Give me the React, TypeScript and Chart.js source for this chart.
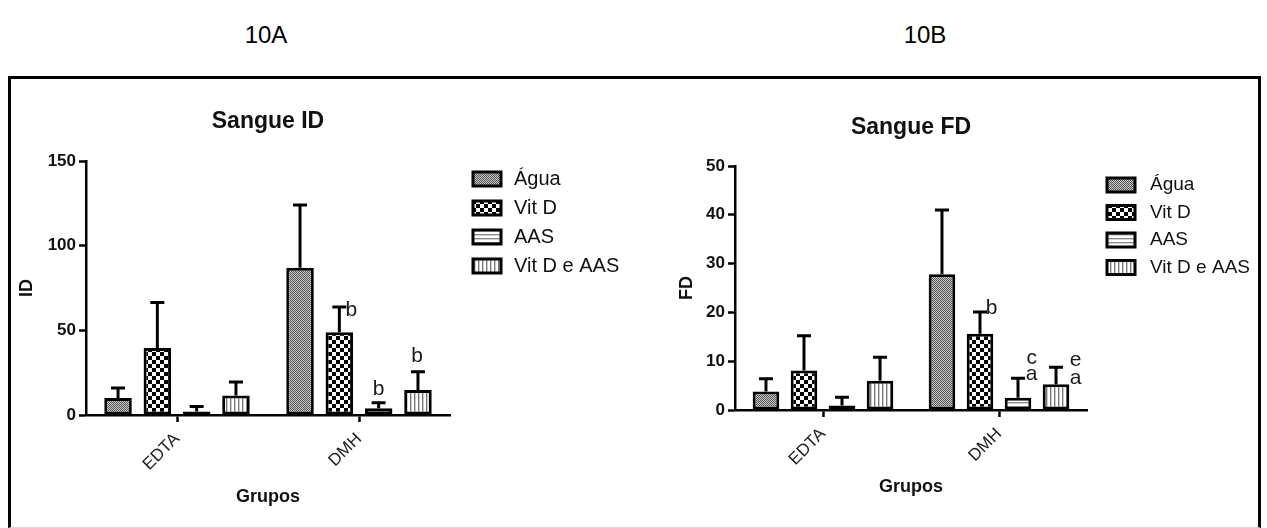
import React, { useEffect, useRef } from 'react';
import { Chart, registerables } from 'chart.js';

Chart.register(...registerables);

const FONT = "'Liberation Sans', Arial, Helvetica, sans-serif";

// ---------- data ----------
const categories = ['EDTA', 'DMH'];
const seriesLabels = ['Água', 'Vit D', 'AAS', 'Vit D e AAS'];

// Sangue ID (means, then upper SD)
const idAgua = [10, 87];
const idVitD = [39.5, 48.8];
const idAAS = [2, 4];
const idVitDAAS = [11.5, 14.8];
const idAguaSD = [6, 37];
const idVitDSD = [27, 15];
const idAASSD = [3, 3.3];
const idVitDAASSD = [8, 10.8];
const idTicks = [0, 50, 100, 150];
const idLetters = [[[], []], [[], ['b']], [[], ['b']], [[], ['b']]];

// Sangue FD
const fdAgua = [3.8, 27.8];
const fdVitD = [8.1, 15.6];
const fdAAS = [0.9, 2.5];
const fdVitDAAS = [6.0, 5.3];
const fdAguaSD = [2.6, 13.2];
const fdVitDSD = [7.1, 4.5];
const fdAASSD = [1.7, 4];
const fdVitDAASSD = [4.8, 3.45];
const fdTicks = [0, 10, 20, 30, 40, 50];
const fdLetters = [[[], []], [[], ['b']], [[], ['c', 'a']], [[], ['e', 'a']]];

// ---------- layout / style ----------
type PanelCfg = {
  title: string;
  yTitle: string;
  xTitle: string;
  values: number[][];
  errors: number[][];
  ticks: number[];
  letters: string[][][];
  letterPos: number[][][][];
  area: { left: number; top: number; right: number; bottom: number };
  titleDy: number;
  yTitleDx: number;
  xTitleDy: number;
  legendDx: number;
  legendDy: number;
  legendPitch: number;
  legendTextDx: number;
  legendFont: number;
};

const W = 1267;
const H = 528;
const Y_AXIS_W = 60;
const X_AXIS_H = 60;

const leftCfg: PanelCfg = {
  title: 'Sangue ID',
  yTitle: 'ID',
  xTitle: 'Grupos',
  values: [idAgua, idVitD, idAAS, idVitDAAS],
  errors: [idAguaSD, idVitDSD, idAASSD, idVitDAASSD],
  ticks: idTicks,
  letters: idLetters,
  letterPos: [[[], []], [[], [[12, 2]]], [[], [[0, -15.5]]], [[], [[-1, -17.5]]]],
  area: { left: 86, top: 161, right: 450, bottom: 415 },
  titleDy: 39.3,
  yTitleDx: 59,
  xTitleDy: 81.7,
  legendDx: 23,
  legendDy: 18,
  legendPitch: 29,
  legendTextDx: 41,
  legendFont: 20,
};

const rightCfg: PanelCfg = {
  title: 'Sangue FD',
  yTitle: 'FD',
  xTitle: 'Grupos',
  values: [fdAgua, fdVitD, fdAAS, fdVitDAAS],
  errors: [fdAguaSD, fdVitDSD, fdAASSD, fdVitDAASSD],
  ticks: fdTicks,
  letters: fdLetters,
  letterPos: [
    [[], []],
    [[], [[11.7, -5]]],
    [[], [[13.7, -19.3], [13.7, -3.3]]],
    [[], [[19.5, -7.3], [19.5, 11]]],
  ],
  area: { left: 735, top: 166, right: 1087, bottom: 410 },
  titleDy: 38,
  yTitleDx: 47.5,
  xTitleDy: 76.7,
  legendDx: 20,
  legendDy: 19,
  legendPitch: 27.5,
  legendTextDx: 43,
  legendFont: 19,
};

function makeTile(w: number, h: number, draw: (g: CanvasRenderingContext2D) => void) {
  const c = document.createElement('canvas');
  c.width = w;
  c.height = h;
  const g = c.getContext('2d')!;
  draw(g);
  return c;
}

function makePatterns(ctx: CanvasRenderingContext2D) {
  const agua = makeTile(2, 2, (g) => {
    g.fillStyle = '#c8c8c8';
    g.fillRect(0, 0, 2, 2);
    g.fillStyle = '#555';
    g.fillRect(0, 0, 1, 1);
    g.fillRect(1, 1, 1, 1);
  });
  const vitd = makeTile(8, 8, (g) => {
    g.fillStyle = '#fff';
    g.fillRect(0, 0, 8, 8);
    g.fillStyle = '#000';
    g.fillRect(0, 0, 4, 4);
    g.fillRect(4, 4, 4, 4);
  });
  const aas = makeTile(1, 4, (g) => {
    g.fillStyle = '#fff';
    g.fillRect(0, 0, 1, 4);
    g.fillStyle = '#8a8a8a';
    g.fillRect(0, 2, 1, 1);
    g.fillStyle = '#d2d2d2';
    g.fillRect(0, 3, 1, 1);
  });
  const both = makeTile(4, 1, (g) => {
    g.fillStyle = '#fff';
    g.fillRect(0, 0, 4, 1);
    g.fillStyle = '#777';
    g.fillRect(2, 0, 1, 1);
    g.fillStyle = '#cdcdcd';
    g.fillRect(3, 0, 1, 1);
  });
  return [agua, vitd, aas, both].map((t) => ctx.createPattern(t, 'repeat')!);
}

function decorPlugin(cfg: PanelCfg) {
  return {
    id: 'decor',
    afterDatasetsDraw(chart: any) {
      const { ctx } = chart;
      const y = chart.scales.y;
      ctx.save();
      ctx.strokeStyle = '#000';
      ctx.lineWidth = 3;
      chart.data.datasets.forEach((ds: any, i: number) => {
        const meta = chart.getDatasetMeta(i);
        meta.data.forEach((bar: any, j: number) => {
          const top = y.getPixelForValue(ds.data[j] + cfg.errors[i][j]);
          ctx.beginPath();
          ctx.moveTo(bar.x, bar.y);
          ctx.lineTo(bar.x, top);
          ctx.moveTo(bar.x - 7, top);
          ctx.lineTo(bar.x + 7, top);
          ctx.stroke();
          const letters = cfg.letters[i][j];
          const pos = cfg.letterPos[i][j];
          ctx.fillStyle = '#1a1a1a';
          ctx.font = `21px ${FONT}`;
          ctx.textAlign = 'center';
          ctx.textBaseline = 'alphabetic';
          letters.forEach((t: string, k: number) => {
            const m = ctx.measureText(t);
            const cx = bar.x + pos[k][0];
            const cy = top + pos[k][1];
            const base = cy + (m.actualBoundingBoxAscent - m.actualBoundingBoxDescent) / 2;
            ctx.fillText(t, cx, base);
          });
        });
      });
      ctx.restore();
    },
    afterDraw(chart: any) {
      const { ctx, chartArea } = chart;
      const cx = (chartArea.left + chartArea.right) / 2;
      ctx.save();
      ctx.fillStyle = '#111';
      ctx.textAlign = 'center';
      ctx.textBaseline = 'middle';
      ctx.font = `bold 23px ${FONT}`;
      ctx.fillText(cfg.title, cx, chartArea.top - cfg.titleDy);
      ctx.font = `bold 18px ${FONT}`;
      ctx.fillText(cfg.xTitle, cx, chartArea.bottom + cfg.xTitleDy);
      ctx.save();
      ctx.translate(chartArea.left - cfg.yTitleDx, (chartArea.top + chartArea.bottom) / 2);
      ctx.rotate(-Math.PI / 2);
      ctx.fillText(cfg.yTitle, 0, 0);
      ctx.restore();
      // legend
      const bx = chartArea.right + cfg.legendDx;
      chart.data.datasets.forEach((ds: any, i: number) => {
        const ry = chartArea.top + cfg.legendDy + i * cfg.legendPitch;
        ctx.fillStyle = ds.backgroundColor;
        ctx.fillRect(bx, ry - 7, 28, 14);
        ctx.strokeStyle = '#000';
        ctx.lineWidth = 3;
        ctx.strokeRect(bx, ry - 7, 28, 14);
        ctx.fillStyle = '#111';
        ctx.textAlign = 'left';
        ctx.font = `${cfg.legendFont}px ${FONT}`;
        ctx.fillText(ds.label, bx + cfg.legendTextDx, ry);
      });
      ctx.restore();
    },
  };
}

function Panel({ cfg }: { cfg: PanelCfg }) {
  const ref = useRef<HTMLCanvasElement>(null);
  useEffect(() => {
    const canvas = ref.current!;
    const ctx = canvas.getContext('2d')!;
    const pats = makePatterns(ctx);
    const a = cfg.area;
    const chart = new Chart(canvas, {
      type: 'bar',
      data: {
        labels: categories,
        datasets: seriesLabels.map((label, i) => ({
          label,
          data: cfg.values[i],
          backgroundColor: pats[i],
          borderColor: '#000',
          borderWidth: 3,
          borderSkipped: false,
          categoryPercentage: 0.864,
          barPercentage: 0.7,
        })),
      },
      options: {
        responsive: false,
        animation: false,
        devicePixelRatio: 1,
        layout: {
          padding: {
            left: a.left - Y_AXIS_W,
            top: a.top,
            right: W - a.right,
            bottom: H - a.bottom - X_AXIS_H,
          },
        },
        plugins: {
          legend: { display: false },
          title: { display: false },
          tooltip: { enabled: false },
        },
        scales: {
          x: {
            offset: true,
            grid: {
              display: true,
              offset: false,
              drawOnChartArea: false,
              drawTicks: true,
              tickLength: 7,
              tickColor: '#000',
              tickWidth: 2.5,
              color: '#000',
            },
            border: { display: true, color: '#000', width: 2.5 },
            ticks: {
              autoSkip: false,
              minRotation: 45,
              maxRotation: 45,
              padding: 7,
              color: '#222',
              font: { size: 17, family: FONT },
            },
            afterFit: (s: any) => {
              s.height = X_AXIS_H;
            },
          },
          y: {
            min: 0,
            max: cfg.ticks[cfg.ticks.length - 1],
            afterBuildTicks: (s: any) => {
              s.ticks = cfg.ticks.map((v) => ({ value: v }));
            },
            grid: {
              display: true,
              drawOnChartArea: false,
              drawTicks: true,
              tickLength: 7,
              tickColor: '#000',
              tickWidth: 2.5,
              color: '#000',
            },
            border: { display: true, color: '#000', width: 2.5 },
            ticks: {
              padding: 3,
              color: '#111',
              font: { size: 17, weight: 'bold', family: FONT },
            },
            afterFit: (s: any) => {
              s.width = Y_AXIS_W;
            },
          },
        },
      } as any,
      plugins: [decorPlugin(cfg)],
    });
    return () => chart.destroy();
  }, [cfg]);
  return (
    <canvas
      ref={ref}
      width={W}
      height={H}
      style={{ position: 'absolute', left: 0, top: 0, width: W, height: H }}
    />
  );
}

export default function App() {
  const label = (text: string, cx: number): React.ReactElement => (
    <div
      style={{
        position: 'absolute',
        left: cx - 60,
        top: 21,
        width: 120,
        lineHeight: '28px',
        textAlign: 'center',
        fontFamily: FONT,
        fontSize: 24,
        color: '#000',
      }}
    >
      {text}
    </div>
  );
  return (
    <div style={{ position: 'absolute', left: 0, top: 0, width: W, height: H, background: '#fff' }}>
      {label('10A', 266)}
      {label('10B', 925)}
      <div
        style={{
          position: 'absolute',
          left: 8,
          top: 76,
          width: 1247,
          height: 448,
          borderStyle: 'solid',
          borderColor: '#000',
          borderBottomColor: '#d8d8d8',
          borderWidth: '3px 3px 1px 3px',
        }}
      />
      <Panel cfg={leftCfg} />
      <Panel cfg={rightCfg} />
    </div>
  );
}
